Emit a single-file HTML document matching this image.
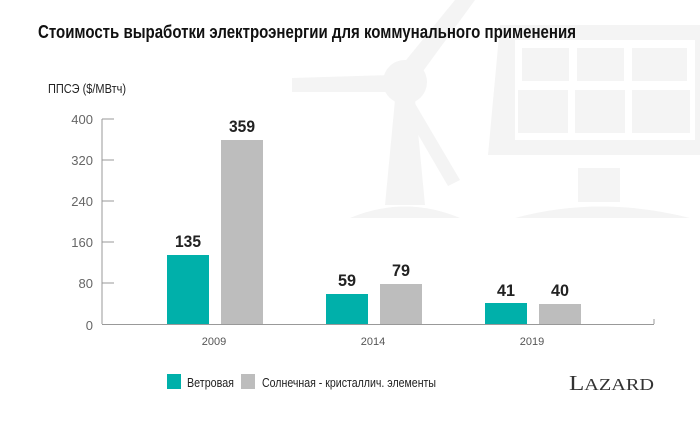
<!DOCTYPE html>
<html><head><meta charset="utf-8"><style>
body{margin:0;background:#fff;}
svg{display:block;font-family:"Liberation Sans Narrow","Liberation Sans",sans-serif;}
</style></head><body>
<svg width="700" height="428" viewBox="0 0 700 428">
<g fill="#f4f4f4">
 <polygon points="398,70 455,0 475,0 418,78"/>
 <polygon points="392,75 292,78 292,92 392,92"/>
 <polygon points="410,95 460,180 448,186 398,100"/>
 <circle cx="405" cy="82" r="22"/>
 <polygon points="395,100 415,100 425,205 385,205"/>
 <path d="M350,218 Q405,195 460,218 Z"/>
 <path d="M500,25 L700,25 L700,155 L488,155 Z M515,40 L515,140 L695,140 L695,40 Z" fill-rule="evenodd"/>
 <rect x="522" y="48" width="47" height="33"/><rect x="577" y="48" width="47" height="33"/><rect x="632" y="48" width="55" height="33"/>
 <rect x="518" y="90" width="50" height="43"/><rect x="575" y="90" width="50" height="43"/><rect x="632" y="90" width="58" height="43"/>
 <rect x="578" y="168" width="42" height="34"/>
 <path d="M515,218 Q600,195 690,218 Z"/>
</g>
<text x="38" y="38" font-size="18" font-weight="bold" fill="#111" textLength="538" lengthAdjust="spacingAndGlyphs">Стоимость выработки электроэнергии для коммунального применения</text>
<text x="48" y="93" font-size="13" fill="#222" textLength="78" lengthAdjust="spacingAndGlyphs">ППСЭ ($/МВтч)</text>
<g stroke="#999" stroke-width="1">
 <line x1="102" y1="119" x2="102" y2="324"/>
 <line x1="102" y1="324.5" x2="654" y2="324.5"/>
 <line x1="654" y1="319" x2="654" y2="324"/>
 <line x1="102" y1="119" x2="114" y2="119"/>
 <line x1="102" y1="160" x2="114" y2="160"/>
 <line x1="102" y1="201" x2="114" y2="201"/>
 <line x1="102" y1="242" x2="114" y2="242"/>
 <line x1="102" y1="283" x2="114" y2="283"/>
</g>
<g font-family="Liberation Sans,sans-serif" font-size="13" fill="#666" text-anchor="end">
 <text x="93" y="124">400</text><text x="93" y="165">320</text><text x="93" y="206">240</text>
 <text x="93" y="247">160</text><text x="93" y="288">80</text><text x="93" y="330">0</text>
</g>
<g fill="#00b0aa">
 <rect x="167" y="255" width="42" height="69"/>
 <rect x="326" y="294" width="42" height="30"/>
 <rect x="485" y="303" width="42" height="21"/>
</g>
<g fill="#bdbdbd">
 <rect x="221" y="140" width="42" height="184"/>
 <rect x="380" y="284" width="42" height="40"/>
 <rect x="539" y="304" width="42" height="20"/>
</g>
<g font-family="Liberation Sans,sans-serif" font-size="17" font-weight="bold" fill="#222" text-anchor="middle" lengthAdjust="spacingAndGlyphs">
 <text x="188" y="247" textLength="26" lengthAdjust="spacingAndGlyphs">135</text><text x="242" y="132" textLength="26" lengthAdjust="spacingAndGlyphs">359</text>
 <text x="347" y="286" textLength="18" lengthAdjust="spacingAndGlyphs">59</text><text x="401" y="276" textLength="18" lengthAdjust="spacingAndGlyphs">79</text>
 <text x="506" y="296" textLength="18" lengthAdjust="spacingAndGlyphs">41</text><text x="560" y="296" textLength="18" lengthAdjust="spacingAndGlyphs">40</text>
</g>
<g font-family="Liberation Sans,sans-serif" font-size="11" fill="#555" text-anchor="middle">
 <text x="214" y="345">2009</text><text x="373" y="345">2014</text><text x="532" y="345">2019</text>
</g>
<rect x="167" y="374" width="14" height="15" fill="#00b0aa"/>
<text x="187" y="387" font-size="13" fill="#222" textLength="47" lengthAdjust="spacingAndGlyphs">Ветровая</text>
<rect x="241" y="374" width="14" height="15" fill="#bdbdbd"/>
<text x="262" y="387" font-size="13" fill="#222" textLength="174" lengthAdjust="spacingAndGlyphs">Солнечная - кристаллич. элементы</text>
<text x="569" y="390" font-family="Liberation Serif,serif" font-size="21" fill="#333" textLength="85" lengthAdjust="spacingAndGlyphs">L<tspan font-size="17">AZARD</tspan></text>
</svg>
</body></html>
